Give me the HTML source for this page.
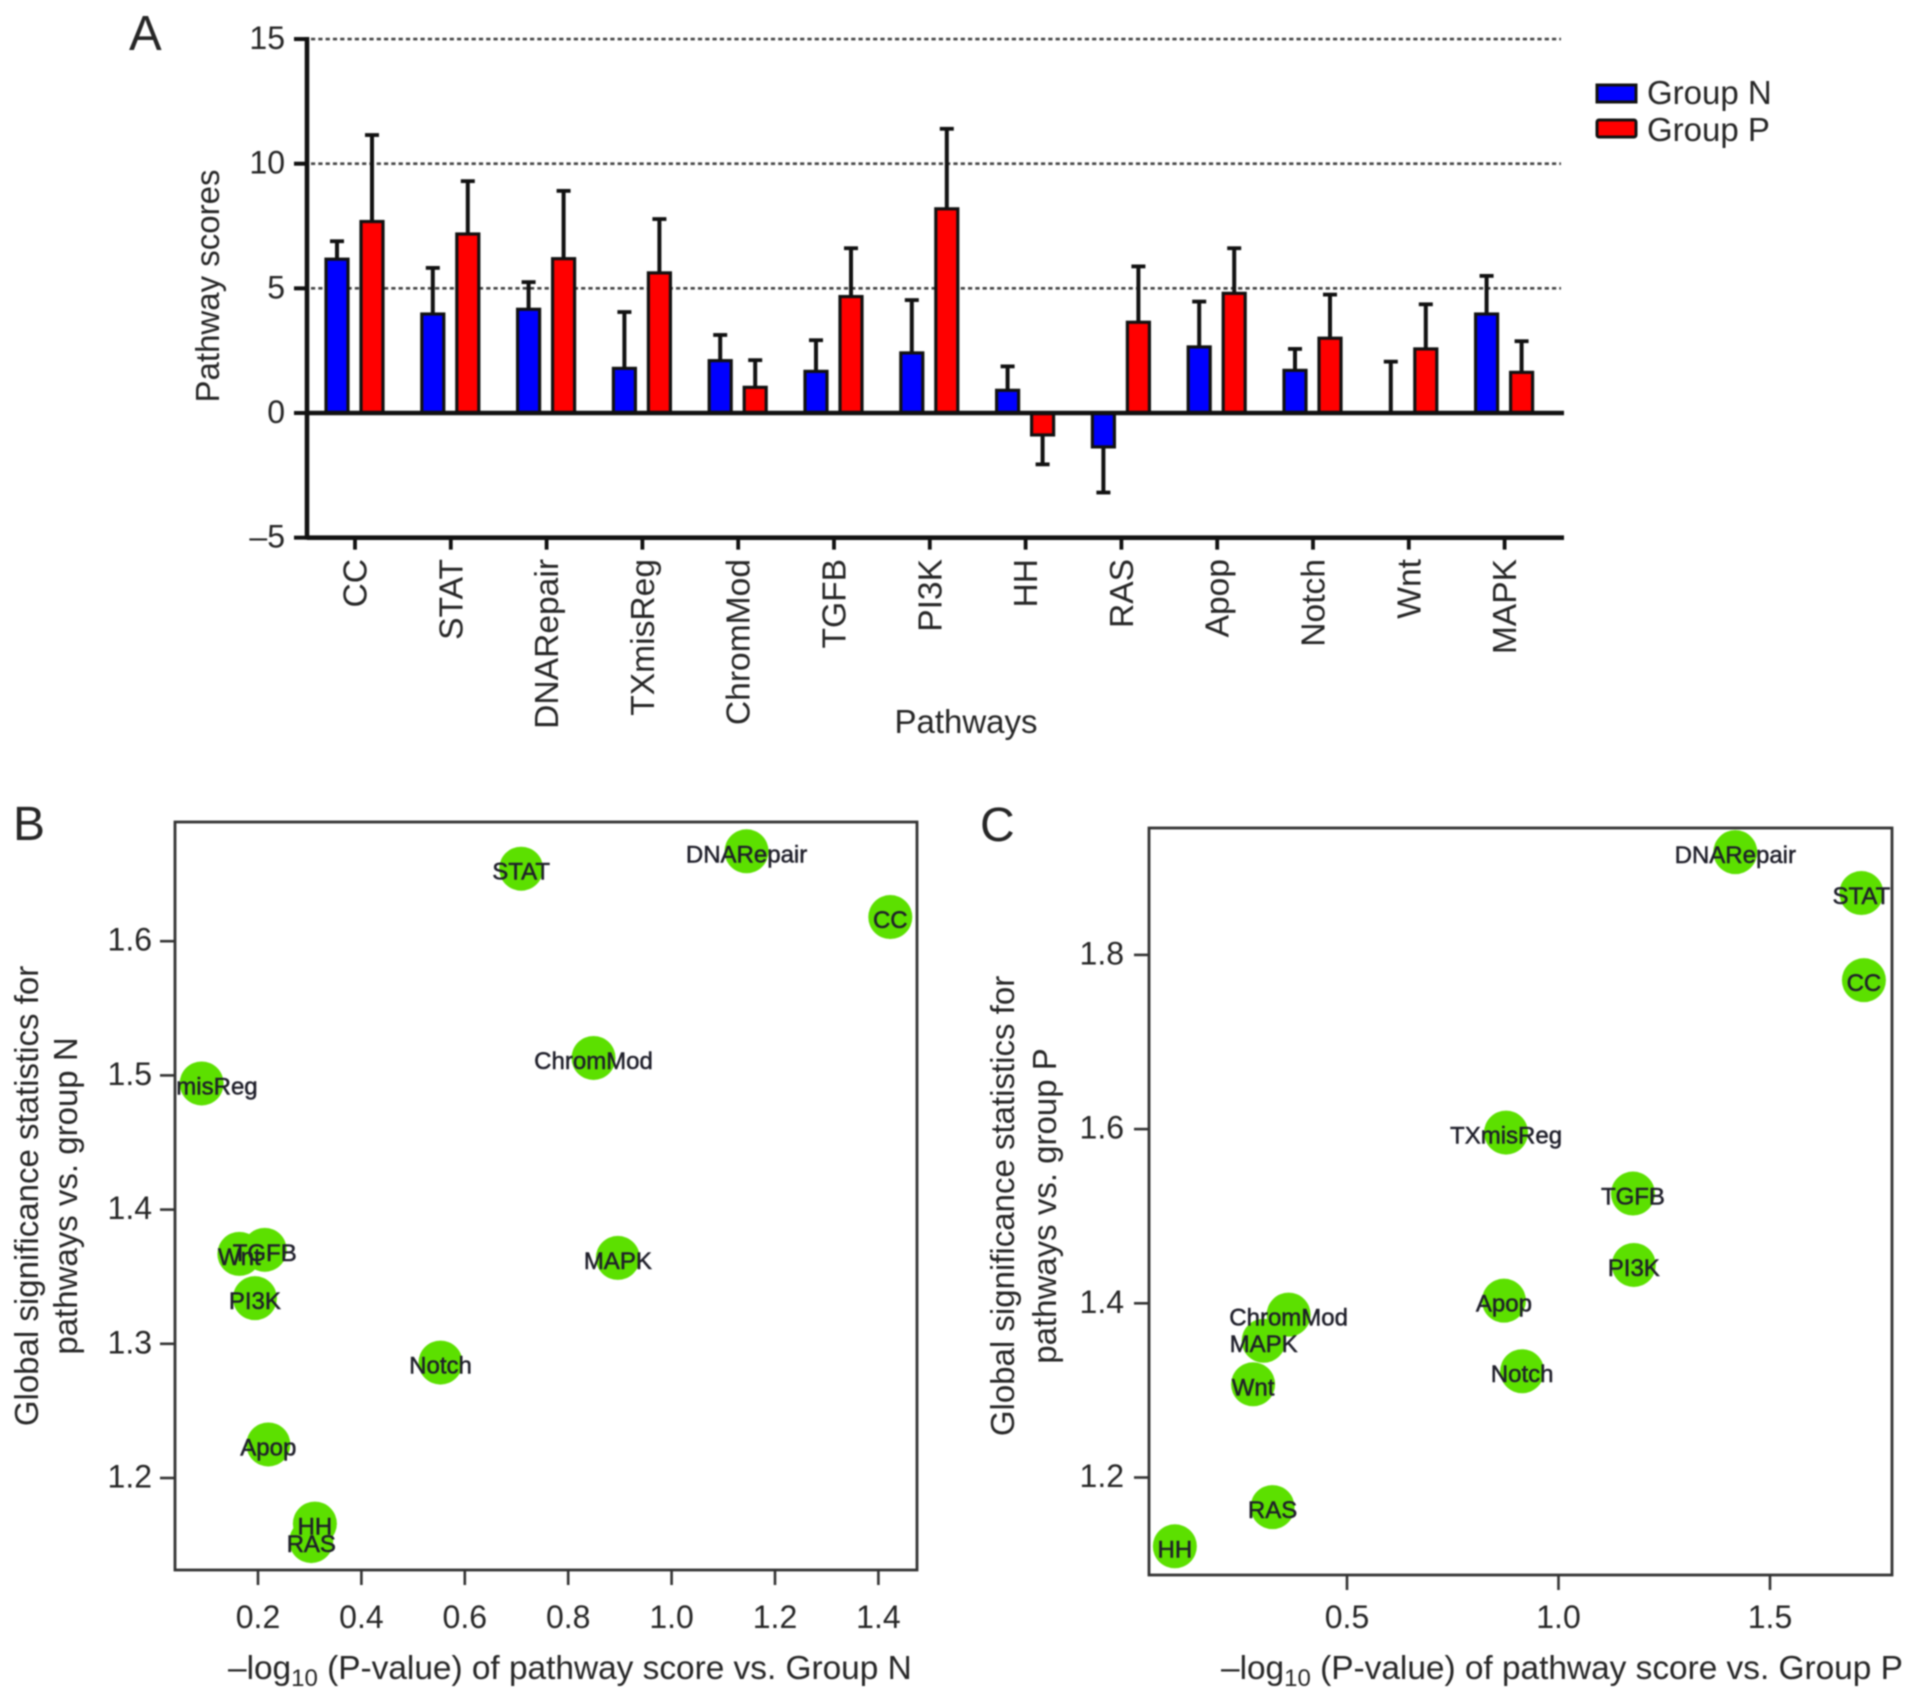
<!DOCTYPE html>
<html>
<head>
<meta charset="utf-8">
<title>Pathway scores</title>
<style>
html,body{margin:0;padding:0;background:#fff;}
svg{display:block;filter:blur(0.8px);}
text{font-family:"Liberation Sans",sans-serif;fill:#262626;}
</style>
</head>
<body>
<svg id="fig" xmlns="http://www.w3.org/2000/svg" width="1913" height="1699" viewBox="0 0 1913 1699">
<defs>
<clipPath id="clip-b"><rect x="175" y="822" width="742" height="748"/></clipPath>
<clipPath id="clip-c"><rect x="1149" y="828" width="743" height="747"/></clipPath>
</defs>
<rect width="1913" height="1699" fill="#fff"/>

<text x="129" y="50" font-size="49">A</text>
<text x="13" y="840" font-size="48">B</text>
<text x="980" y="841" font-size="48">C</text>

<g id="panel-a"></g>
<g id="panel-b"></g>
<g id="panel-c"></g>

<text font-size="33" text-anchor="middle" transform="translate(219,286) rotate(-90)">Pathway scores</text>
<text x="966" y="733" font-size="33" text-anchor="middle">Pathways</text>

<g>
<rect x="1597" y="85" width="39" height="17" fill="#0000ff" stroke="#111" stroke-width="3"/>
<text x="1647" y="104" font-size="33">Group N</text>
<rect x="1597" y="120" width="39" height="17" fill="#ff0000" stroke="#111" stroke-width="3" rx="2"/>
<text x="1647" y="141" font-size="33">Group P</text>
</g>

<text font-size="33" text-anchor="middle" transform="translate(38,1196) rotate(-90)">Global significance statistics for</text>
<text font-size="33" text-anchor="middle" transform="translate(77,1196) rotate(-90)">pathways vs. group N</text>
<text x="228" y="1679" font-size="33.4">–log<tspan font-size="24" dy="7">10</tspan><tspan dy="-7"> (P-value) of pathway score vs. Group N</tspan></text>

<text font-size="33" text-anchor="middle" transform="translate(1014,1206) rotate(-90)">Global significance statistics for</text>
<text font-size="33" text-anchor="middle" transform="translate(1056,1206) rotate(-90)">pathways vs. group P</text>
<text x="1221" y="1679" font-size="33.4">–log<tspan font-size="24" dy="7">10</tspan><tspan dy="-7"> (P-value) of pathway score vs. Group P</tspan></text>
</svg>

<script>
// ---------- Panel A data ----------
var pathways = ['CC','STAT','DNARepair','TXmisReg','ChromMod','TGFB','PI3K','HH','RAS','Apop','Notch','Wnt','MAPK'];
var groupN = [6.17,3.97,4.16,1.79,2.10,1.67,2.41,0.91,-1.36,2.65,1.71,0,3.97];
var groupP = [7.68,7.18,6.19,5.62,1.03,4.67,8.19,-0.88,3.64,4.80,3.00,2.57,1.63];
var errorEndN = [6.89,5.82,5.25,4.05,3.13,2.92,4.53,1.87,-3.19,4.47,2.57,2.06,5.50];
var errorEndP = [11.15,9.30,8.91,7.78,2.12,6.61,11.40,-2.06,5.88,6.61,4.75,4.36,2.88];
var aTicks = [15,10,5,0,-5];
var aGrid = [15,10,5];

// ---------- Panel B data ----------
var bNames = ['CC','DNARepair','STAT','ChromMod','TXmisReg','Wnt','TGFB','PI3K','MAPK','Notch','Apop','HH','RAS'];
var bX = [1.423,1.145,0.709,0.849,0.091,0.164,0.213,0.194,0.896,0.553,0.220,0.310,0.303];
var bY = [1.618,1.667,1.654,1.513,1.494,1.367,1.370,1.334,1.364,1.286,1.225,1.166,1.153];
var bXTicks = [0.2,0.4,0.6,0.8,1.0,1.2,1.4];
var bYTicks = [1.2,1.3,1.4,1.5,1.6];

// ---------- Panel C data ----------
var cNames = ['DNARepair','STAT','CC','TXmisReg','TGFB','PI3K','Apop','ChromMod','MAPK','Wnt','Notch','RAS','HH'];
var cX = [1.418,1.716,1.722,0.876,1.176,1.178,0.871,0.362,0.303,0.278,0.914,0.324,0.093];
var cY = [1.918,1.871,1.771,1.596,1.526,1.444,1.403,1.387,1.357,1.307,1.322,1.166,1.121];
var cXTicks = [0.5,1.0,1.5];
var cYTicks = [1.2,1.4,1.6,1.8];

// ---------- Helpers ----------
var NS = 'http://www.w3.org/2000/svg';
function mk(tag, attrs, parent) {
  var el = document.createElementNS(NS, tag);
  for (var k in attrs) el.setAttribute(k, attrs[k]);
  parent.appendChild(el);
  return el;
}
function slug(s) { return String(s).toLowerCase().replace(/[^a-z0-9]+/g, '-'); }

// ---------- Panel A ----------
var A = document.getElementById('panel-a');
function xA(i) { return 355 + i * 95.8; }
function yA(v) { return 413 - v * 24.93; }
var aLeft = 307, aRight = 1564;

aGrid.forEach(function (v) {
  var el = mk('line', {x1: aLeft + 4, x2: 1561, y1: yA(v), y2: yA(v), stroke: '#444', 'stroke-width': 2.6, 'stroke-dasharray': '4.2 3.1'}, A);
  
  
});

function drawBar(i, v, end, dx, color, group) {
  var cx = xA(i) + dx, w = 22;
  var lo = Math.min(yA(0), yA(v)), hi = Math.max(yA(0), yA(v));
  var eb = mk('line', {x1: cx, x2: cx, y1: yA(v), y2: yA(end), stroke: '#111', 'stroke-width': 4}, A);
  
  
  var cap = mk('line', {x1: cx - 7, x2: cx + 7, y1: yA(end), y2: yA(end), stroke: '#111', 'stroke-width': 3.8}, A);
  
  
  if (v !== 0) {
    var bar = mk('rect', {x: cx - w / 2, y: lo, width: w, height: hi - lo, fill: color, stroke: '#111', 'stroke-width': 3.2}, A);
    
    
  }
}
pathways.forEach(function (name, i) {
  drawBar(i, groupN[i], errorEndN[i], -18, '#0000ff', 'n');
  drawBar(i, groupP[i], errorEndP[i], 17, '#ff0000', 'p');
  var t = mk('line', {x1: xA(i), x2: xA(i), y1: yA(-5), y2: yA(-5) + 12, stroke: '#111', 'stroke-width': 3.8}, A);
  
  
  var lx = xA(i) + 11.5, ly = 559;
  var lab = mk('text', {'font-size': 33.6, 'text-anchor': 'end', transform: 'translate(' + lx + ',' + ly + ') rotate(-90)'}, A);
  
  
  lab.textContent = name;
});

var zeroLine = mk('line', {x1: aLeft, x2: aRight, y1: yA(0), y2: yA(0), stroke: '#111', 'stroke-width': 4.6}, A);


var bottomLine = mk('line', {x1: aLeft, x2: aRight, y1: yA(-5), y2: yA(-5), stroke: '#111', 'stroke-width': 4.6}, A);


var leftLine = mk('line', {x1: aLeft, x2: aLeft, y1: yA(15) - 2, y2: yA(-5) + 2, stroke: '#111', 'stroke-width': 4.6}, A);



aTicks.forEach(function (v) {
  var t = mk('line', {x1: 294, x2: aLeft, y1: yA(v), y2: yA(v), stroke: '#111', 'stroke-width': 4}, A);
  
  
  var lab = mk('text', {x: 285, y: yA(v) + 10, 'font-size': 32, 'text-anchor': 'end'}, A);
  
  
  lab.textContent = v < 0 ? '–' + Math.abs(v) : String(v);
});

// ---------- Scatter panels ----------
function scatter(opts) {
  var g = document.getElementById(opts.id), p = opts.prefix;
  var points = mk('g', {'clip-path': 'url(#' + opts.clip + ')'}, g);
  
  
  opts.names.forEach(function (name, i) {
    var dot = mk('circle', {cx: opts.xf(opts.xs[i]), cy: opts.yf(opts.ys[i]), r: 22, fill: '#5ce000'}, points);
    
    
  });
  opts.names.forEach(function (name, i) {
    var lab = mk('text', {x: opts.xf(opts.xs[i]), y: opts.yf(opts.ys[i]) + 11, 'font-size': 24, 'text-anchor': 'middle', style: 'fill:#1f1f2a;stroke:#1f1f2a;stroke-width:0.5'}, points);
    
    
    lab.textContent = name;
  });
  var f = opts.frame;
  var frame = mk('rect', {x: f.x, y: f.y, width: f.w, height: f.h, fill: 'none', stroke: '#333', 'stroke-width': 2.8}, g);
  
  
  opts.xticks.forEach(function (v) {
    var x = opts.xf(v), yb = f.y + f.h;
    var t = mk('line', {x1: x, x2: x, y1: yb, y2: yb + 15, stroke: '#333', 'stroke-width': 2.6}, g);
    
    
    var lab = mk('text', {x: x, y: 1628, 'font-size': 32, 'text-anchor': 'middle'}, g);
    
    
    lab.textContent = v.toFixed(1);
  });
  opts.yticks.forEach(function (v) {
    var y = opts.yf(v);
    var t = mk('line', {x1: f.x - 15, x2: f.x, y1: y, y2: y, stroke: '#333', 'stroke-width': 2.6}, g);
    
    
    var lab = mk('text', {x: f.x - opts.labelGap, y: y + 9.5, 'font-size': 32, 'text-anchor': 'end'}, g);
    
    
    lab.textContent = v.toFixed(1);
  });
}
function xB(v) { return 258 + (v - 0.2) * 517; }
function yB(v) { return 1478 - (v - 1.2) * 1342; }
function xC(v) { return 1347 + (v - 0.5) * 423; }
function yC(v) { return 1477.5 - (v - 1.2) * 871; }

scatter({id: 'panel-b', prefix: 'b', clip: 'clip-b', names: bNames, xs: bX, ys: bY, xf: xB, yf: yB, labelGap: 23,
  xticks: bXTicks, yticks: bYTicks, frame: {x: 175, y: 822, w: 742, h: 748}});
scatter({id: 'panel-c', prefix: 'c', clip: 'clip-c', names: cNames, xs: cX, ys: cY, xf: xC, yf: yC, labelGap: 25,
  xticks: cXTicks, yticks: cYTicks, frame: {x: 1149, y: 828, w: 743, h: 747}});
</script>
</body>
</html>
